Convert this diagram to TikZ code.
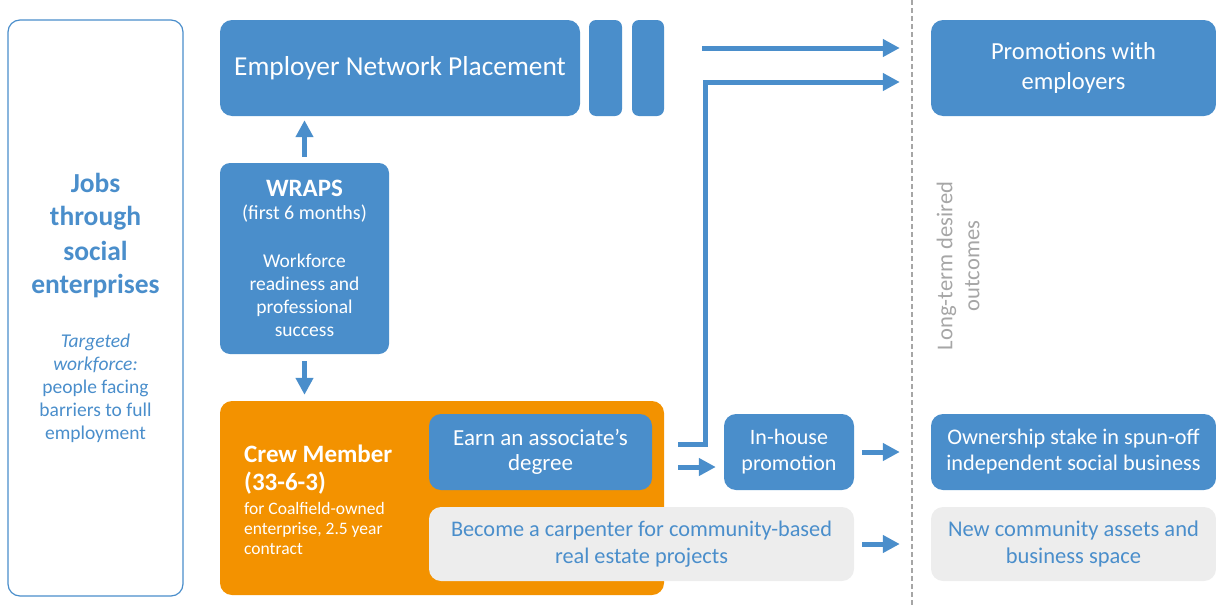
\documentclass[tikz,border=0pt]{standalone}
\usepackage{fontspec}
\setmainfont{Carlito}
\usetikzlibrary{arrows.meta}

\definecolor{wblue}{HTML}{4A8ECB}
\definecolor{worange}{HTML}{F39200}
\definecolor{wgrey}{HTML}{EDEDED}
\definecolor{wline}{HTML}{A6A6A6}

% line fonts (tikz resets the font after every \\)
\newcommand{\jobsfont}{\bfseries\fontsize{27.5}{23}\selectfont}
\newcommand{\headfont}{\bfseries\fontsize{25}{23}\selectfont}
\newcommand{\crewfont}{\bfseries\fontsize{25}{20}\selectfont}

\begin{document}
\begin{tikzpicture}[x=1pt, y=-1pt,
    box/.style={rounded corners=12pt, inner sep=0pt, align=center},
    bluebox/.style={box, fill=wblue, text=white},
    greybox/.style={box, fill=wgrey, text=wblue},
    flow/.style={draw=wblue, line width=5pt, -{Triangle[length=17pt,width=17pt]}}]
    \useasboundingbox (0,0) rectangle (1216,608);

    % Left panel
    \node[box, draw=wblue, line width=1.2pt, minimum width=175pt, minimum height=576pt,
          text=wblue, font=\fontsize{19.5}{23}\selectfont] (jobs) at (95.5,308)
        {\jobsfont Jobs\\[10pt]\jobsfont through\\[10pt]\jobsfont social\\[10pt]\jobsfont enterprises\\[31pt]
         \itshape Targeted\\\itshape workforce:\\people facing\\barriers to full\\employment};

    % Placement row
    \node[bluebox, minimum width=360pt, minimum height=96pt,
          font=\fontsize{27.4}{30}\selectfont] (enp) at (400,68) {Employer Network Placement};
    \node[bluebox, rounded corners=7pt, minimum width=33pt, minimum height=96pt] (bar1) at (605.5,68) {};
    \node[bluebox, rounded corners=7pt, minimum width=32pt, minimum height=96pt] (bar2) at (648,68) {};

    % WRAPS
    \node[bluebox, rounded corners=10pt, minimum width=169pt, minimum height=191pt,
          font=\fontsize{19.5}{23}\selectfont] (wraps) at (304.5,258.5)
        {\headfont WRAPS\\\fontsize{20}{23}\selectfont (first 6 months)\\[25pt]
         Workforce\\readiness and\\professional\\success};

    % Crew member block
    \node[box, fill=worange, minimum width=444pt, minimum height=194pt] (crew) at (442,498) {};
    \node[anchor=west, align=left, text=white, inner sep=0pt,
          font=\fontsize{17.5}{20}\selectfont] (crewlbl) at (244,500)
        {\crewfont Crew Member\\[8pt]\crewfont (33-6-3)\\[4pt]
         for Coalfield-owned\\enterprise, 2.5 year\\contract};
    \node[bluebox, minimum width=223pt, minimum height=76pt,
          font=\fontsize{23}{25}\selectfont] (earn) at (540.5,452) {Earn an associate’s\\degree};
    \node[greybox, minimum width=425pt, minimum height=74pt,
          font=\fontsize{22.3}{27}\selectfont] (carp) at (641.5,544)
        {Become a carpenter for community-based\\real estate projects};
    \node[bluebox, minimum width=130pt, minimum height=76pt,
          font=\fontsize{22}{26}\selectfont] (inhouse) at (789,452) {In-house\\promotion};

    % Outcomes
    \draw[wline, line width=1.5pt, dash pattern=on 5pt off 3pt] (912,0) -- (912,608);
    \node[rotate=90, align=center, text=wline, font=\fontsize{22.6}{27}\selectfont] (horizon) at (958,266)
        {Long-term desired\\outcomes};
    \node[bluebox, minimum width=285pt, minimum height=96pt,
          font=\fontsize{24.5}{30}\selectfont] (promo) at (1073.5,68) {Promotions with\\employers};
    \node[bluebox, minimum width=285pt, minimum height=76pt,
          font=\fontsize{22.3}{26}\selectfont] (own) at (1073.5,452)
        {Ownership stake in spun-off\\independent social business};
    \node[greybox, minimum width=285pt, minimum height=74pt,
          font=\fontsize{22.5}{27}\selectfont] (newc) at (1073.5,544)
        {New community assets and\\business space};

    % Arrows
    \draw[flow, shorten <=6pt, shorten >=4pt] (wraps.north) -- (wraps.north |- enp.south);
    \draw[flow, shorten <=7pt, shorten >=6pt] (wraps.south) -- (wraps.south |- crew.north);
    \coordinate (t1) at ([yshift=20pt]bar2.east);
    \draw[flow, shorten <=38pt, shorten >=31pt] (t1) -- (t1 -| promo.west);
    \coordinate (e1) at ([yshift=8pt]earn.east);
    \coordinate (p2) at ([yshift=-14pt]promo.west);
    \draw[flow, shorten <=26pt, shorten >=31pt] (e1) -- (e1 -| 705,0) |- (p2);
    \coordinate (e2) at ([yshift=-15pt]earn.east);
    \draw[flow, shorten <=26pt, shorten >=8pt] (e2) -- (e2 -| inhouse.west);
    \draw[flow, shorten <=8pt, shorten >=31pt] (inhouse.east) -- (own.west);
    \draw[flow, shorten <=8pt, shorten >=31pt] (carp.east) -- (newc.west);
\end{tikzpicture}
\end{document}
